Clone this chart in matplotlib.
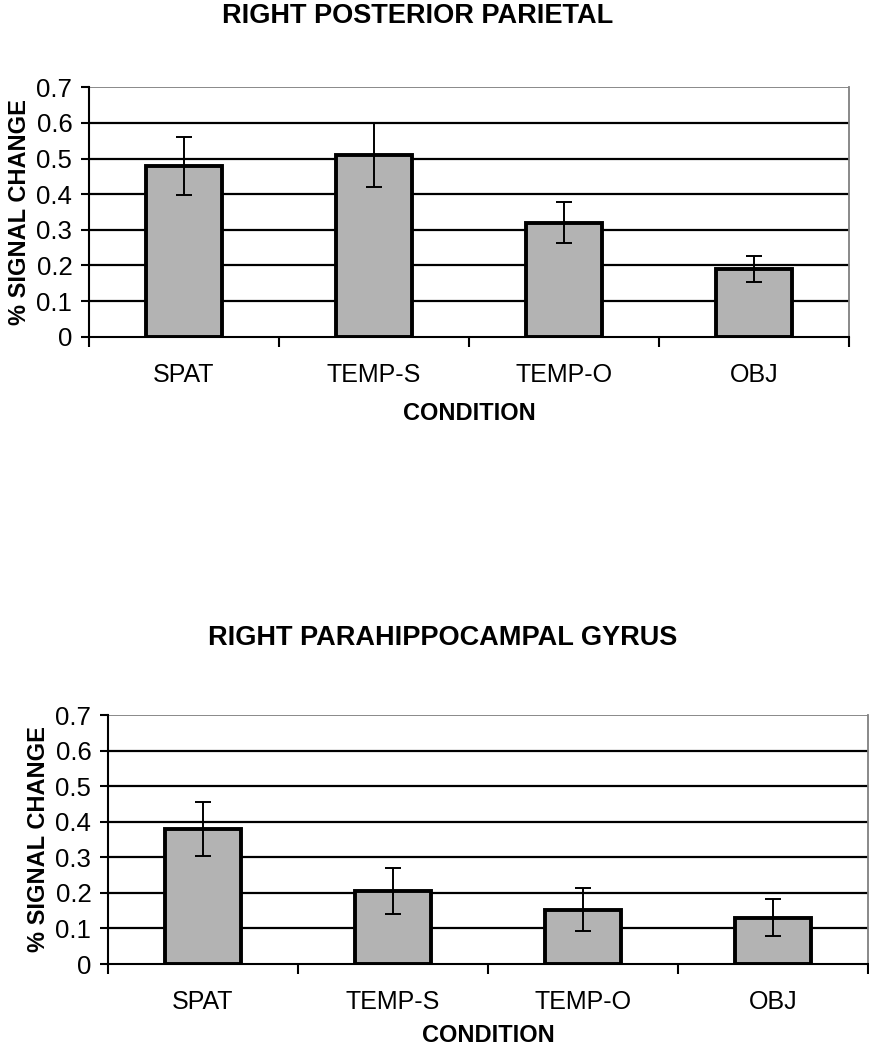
import matplotlib
matplotlib.use('Agg')
import matplotlib.pyplot as plt
import numpy as np

plt.rcParams['font.family'] = ['Liberation Sans', 'DejaVu Sans']

conditions = ['SPAT', 'TEMP-S', 'TEMP-O', 'OBJ']

parietal_vals = [0.48, 0.51, 0.32, 0.19]
parietal_err = [0.081, 0.090, 0.057, 0.037]

parahip_vals = [0.38, 0.205, 0.153, 0.13]
parahip_err = [0.075, 0.065, 0.060, 0.052]

yticks = [0, 0.1, 0.2, 0.3, 0.4, 0.5, 0.6, 0.7]


def draw_panel(ax, vals, errs, xlabelpad):
    x = np.arange(len(conditions))
    ax.bar(x, vals, width=0.4, color='#b3b3b3', edgecolor='black',
           linewidth=2.8, zorder=3)
    ax.errorbar(x, vals, yerr=errs, fmt='none', ecolor='black',
                elinewidth=1.4, capsize=6, capthick=1.4, zorder=4)
    ax.set_xlim(-0.5, len(conditions) - 0.5)
    ax.set_ylim(0, 0.7)
    ax.set_yticks(yticks)
    ax.set_yticklabels(['0' if v == 0 else f'{v:.1f}' for v in yticks])
    for v in yticks[1:-1]:
        ax.axhline(v, color='black', linewidth=1.6, zorder=1)
    ax.axhline(0.7, color='#808080', linewidth=1.3, zorder=1)
    ax.set_xticks(x)
    ax.set_xticklabels(conditions)
    ax.set_xticks(np.arange(len(conditions) + 1) - 0.5, minor=True)
    ax.tick_params(axis='x', which='major', length=0, pad=19, labelsize=18)
    ax.tick_params(axis='x', which='minor', length=7, width=1.5, direction='out')
    ax.tick_params(axis='y', length=6, width=1.5, pad=6, labelsize=18.5)
    ax.spines['top'].set_visible(False)
    ax.spines['right'].set_color('#808080')
    ax.spines['right'].set_linewidth(1.3)
    ax.spines['left'].set_linewidth(1.5)
    ax.spines['bottom'].set_linewidth(1.5)
    ax.set_xlabel('CONDITION', fontsize=17, fontweight='bold', labelpad=xlabelpad)
    ax.set_ylabel('% SIGNAL CHANGE', fontsize=17, fontweight='bold', labelpad=4)


fig = plt.figure(figsize=(8.7, 10.5), dpi=100)

ax1 = fig.add_axes([0.1023, 0.6793, 0.8736, 0.2376])
draw_panel(ax1, parietal_vals, parietal_err, 11)
fig.text(418 / 870, 1 - 16 / 1050, 'RIGHT POSTERIOR PARIETAL', ha='center',
         va='center', fontsize=19.5, fontweight='bold')

ax2 = fig.add_axes([0.1241, 0.0819, 0.8736, 0.2371])
draw_panel(ax2, parahip_vals, parahip_err, 7)
fig.text(443 / 870, 1 - 638 / 1050, 'RIGHT PARAHIPPOCAMPAL GYRUS', ha='center',
         va='center', fontsize=19.5, fontweight='bold')

fig.savefig('out.png', dpi=100)
